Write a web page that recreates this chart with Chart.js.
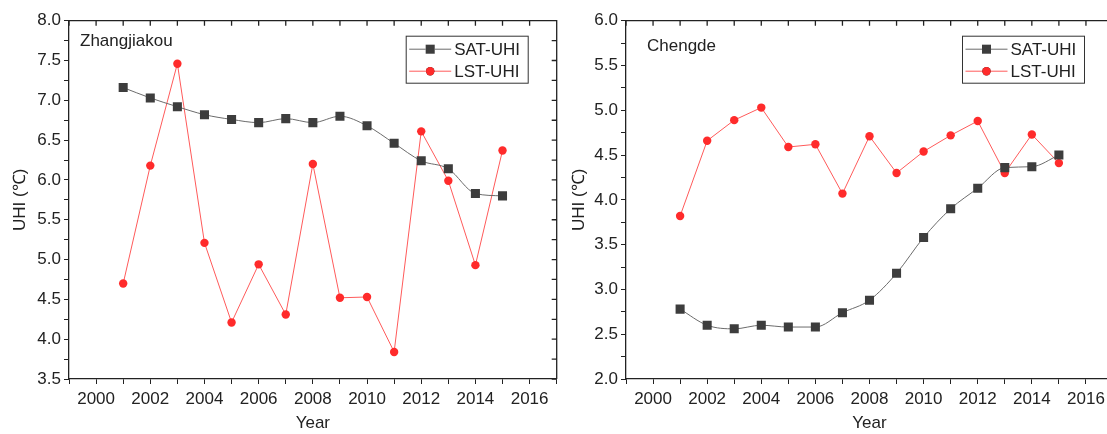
<!DOCTYPE html>
<html>
<head>
<meta charset="utf-8">
<script src="https://cdn.jsdelivr.net/npm/chart.js@4/dist/chart.umd.min.js"></script>
<style>
  html, body { margin: 0; padding: 0; background: #fff; overflow: hidden; }
  body { width: 1107px; height: 434px; position: relative; }
  canvas { position: absolute; top: 0; }
</style>
</head>
<body>
<canvas id="zjk" style="left:6px" width="574" height="434"></canvas>
<canvas id="cd" style="left:565px" width="560" height="434"></canvas>
<script>
// data
const years = [2001, 2002, 2003, 2004, 2005, 2006, 2007, 2008, 2009, 2010, 2011, 2012, 2013, 2014, 2015];
const seriesNames = ["SAT-UHI", "LST-UHI"];

const zjkSat = [7.16, 7.03, 6.92, 6.82, 6.76, 6.72, 6.77, 6.72, 6.80, 6.68, 6.46, 6.24, 6.14, 5.83, 5.80];
const zjkLst = [4.70, 6.18, 7.46, 5.21, 4.21, 4.94, 4.31, 6.20, 4.52, 4.53, 3.84, 6.61, 5.99, 4.93, 6.37];

const cdSat = [2.78, 2.60, 2.56, 2.60, 2.58, 2.58, 2.74, 2.88, 3.18, 3.58, 3.90, 4.13, 4.36, 4.37, 4.50];
const cdLst = [3.82, 4.66, 4.89, 5.03, 4.59, 4.62, 4.07, 4.71, 4.30, 4.54, 4.72, 4.88, 4.30, 4.73, 4.41];

const xRange = [1999, 2017];
const zjkRange = [3.5, 8.0];
const cdRange = [2.0, 6.0];

const FONT = "'Liberation Sans', Arial, sans-serif";
const INK = "#222";
const SAT_COLOR = "#3d3d3d";
const LST_COLOR = "#ff2b2b";

// box frame on top/right with inward ticks
const framePlugin = {
  id: "frame",
  afterDraw(chart) {
    const { ctx, chartArea: a, scales } = chart;
    ctx.save();
    ctx.strokeStyle = INK;
    ctx.lineWidth = 1.3;
    ctx.beginPath();
    ctx.moveTo(a.left, a.top);
    ctx.lineTo(a.right, a.top);
    ctx.lineTo(a.right, a.bottom);
    scales.x.ticks.forEach(t => {
      const px = scales.x.getPixelForValue(t.value);
      ctx.moveTo(px, a.top);
      ctx.lineTo(px, a.top + 5);
    });
    scales.y.ticks.forEach(t => {
      const py = scales.y.getPixelForValue(t.value);
      ctx.moveTo(a.right, py);
      ctx.lineTo(a.right - 5, py);
    });
    ctx.stroke();
    ctx.restore();
  }
};

// framed legend in the top right + panel name
const boxLegendPlugin = {
  id: "boxLegend",
  afterDraw(chart, args, opts) {
    const { ctx, chartArea: a } = chart;
    ctx.save();
    // panel name
    ctx.font = "17px " + FONT;
    ctx.fillStyle = INK;
    ctx.textBaseline = "alphabetic";
    ctx.fillText(opts.name, a.left + opts.nameDx, a.top + opts.nameDy);

    const w = 122, h = 47;
    const x0 = a.right - 28.5 - w, y0 = a.top + 15.5;
    ctx.fillStyle = "#fff";
    ctx.fillRect(x0, y0, w, h);
    ctx.strokeStyle = "#333";
    ctx.lineWidth = 1;
    ctx.strokeRect(x0, y0, w, h);
    chart.data.datasets.forEach((ds, i) => {
      const cy = y0 + 13 + i * 22;
      ctx.strokeStyle = ds.borderColor;
      ctx.lineWidth = 1;
      ctx.beginPath();
      ctx.moveTo(x0 + 3, cy);
      ctx.lineTo(x0 + 45, cy);
      ctx.stroke();
      Chart.helpers.drawPoint(ctx, {
        pointStyle: ds.pointStyle,
        radius: ds.pointRadius,
        borderWidth: 0
      }, x0 + 24, cy);
      ctx.fillStyle = ds.pointBackgroundColor;
      ctx.fill();
      ctx.fillStyle = INK;
      ctx.font = "17px " + FONT;
      ctx.textBaseline = "middle";
      ctx.fillText(ds.label, x0 + 48, cy + 1);
    });
    ctx.restore();
  }
};

function pts(vals) {
  return years.map((yr, i) => ({ x: yr, y: vals[i] }));
}

function makeChart(id, name, nameDx, nameDy, sat, lst, yRange, yWidth, padRight) {
  new Chart(document.getElementById(id), {
    type: "line",
    data: {
      datasets: [
        {
          label: seriesNames[0],
          data: pts(sat),
          borderColor: "#6b6b6b",
          borderWidth: 1,
          pointStyle: "rect",
          pointRadius: 6.4,
          pointBackgroundColor: SAT_COLOR,
          pointBorderWidth: 0,
          cubicInterpolationMode: "monotone",
        },
        {
          label: seriesNames[1],
          data: pts(lst),
          borderColor: "#ff5a5a",
          borderWidth: 1,
          pointStyle: "circle",
          pointRadius: 4.2,
          pointBackgroundColor: LST_COLOR,
          pointBorderWidth: 0,
          tension: 0,
        },
      ],
    },
    options: {
      responsive: false,
      animation: false,
      layout: { padding: { left: 0, right: padRight, top: 20.7, bottom: 0 } },
      plugins: {
        legend: { display: false },
        tooltip: { enabled: false },
        boxLegend: { name: name, nameDx: nameDx, nameDy: nameDy },
      },
      scales: {
        x: {
          type: "linear",
          min: xRange[0],
          max: xRange[1],
          afterFit: s => { s.height = 55; s.paddingLeft = 0; s.paddingRight = 0; },
          border: { color: INK, width: 1.3 },
          grid: { drawOnChartArea: false, tickLength: 5, color: INK },
          ticks: {
            stepSize: 1,
            padding: 5,
            color: INK,
            font: { family: FONT, size: 17 },
            maxRotation: 0,
            autoSkip: false,
            callback: v => (v % 2 === 0 ? String(v) : ""),
          },
          title: {
            display: true,
            text: "Year",
            color: INK,
            font: { family: FONT, size: 17 },
            padding: { top: 0, bottom: 0 },
          },
        },
        y: {
          min: yRange[0],
          max: yRange[1],
          afterFit: s => { s.width = yWidth; s.paddingTop = 0; s.paddingBottom = 0; },
          border: { color: INK, width: 1.3 },
          grid: { drawOnChartArea: false, tickLength: 5, color: INK },
          ticks: {
            stepSize: 0.25,
            padding: 3,
            color: INK,
            font: { family: FONT, size: 17 },
            autoSkip: false,
            callback: v => (Math.abs(v * 2 - Math.round(v * 2)) < 1e-6 ? v.toFixed(1) : ""),
          },
          title: {
            display: true,
            text: "UHI (℃)",
            color: INK,
            font: { family: FONT, size: 17 },
            padding: { top: 4, bottom: 0 },
          },
        },
      },
    },
    plugins: [framePlugin, boxLegendPlugin],
  });
}

makeChart("zjk", "Zhangjiakou", 11, 25.3, zjkSat, zjkLst, zjkRange, 63, 23.3);
makeChart("cd", "Chengde", 21, 30, cdSat, cdLst, cdRange, 61, 12);
</script>
</body>
</html>
